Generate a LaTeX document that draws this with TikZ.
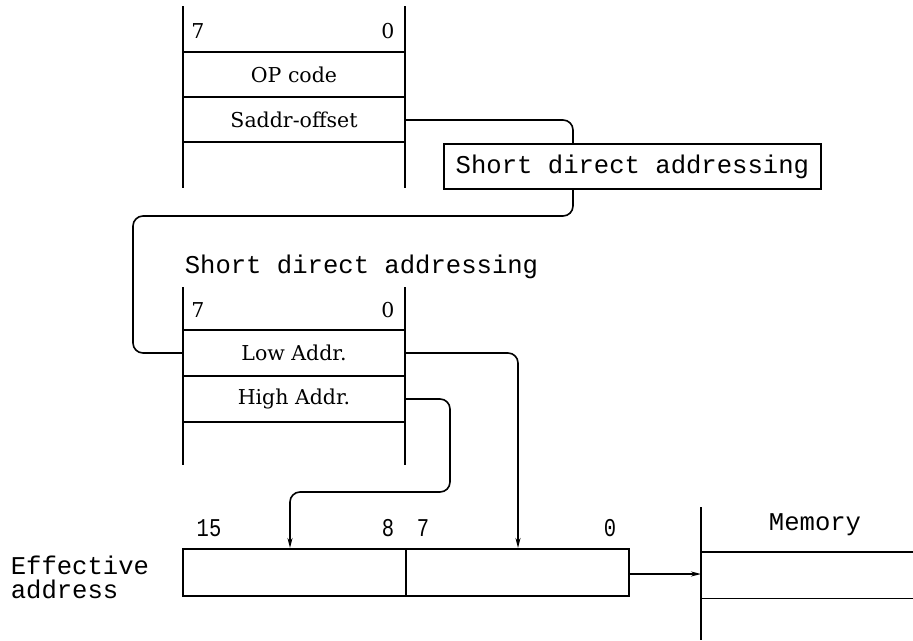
\documentclass[tikz,border=0pt]{standalone}
\usepackage{fontspec}
\usepackage{graphicx}
\setmainfont{DejaVu Serif}
\newfontfamily\monofont{Liberation Mono}
\usetikzlibrary{arrows.meta}
\newcommand{\narrow}[1]{\scalebox{0.8}[1]{#1}}
\begin{document}
\begin{tikzpicture}[x=1pt,y=1pt,
  line width=1.6pt,
  serif/.style={font=\fontsize{20.5}{24}\selectfont, inner sep=0pt},
  mono/.style={font=\monofont\fontsize{25.6}{24}\selectfont, inner sep=0pt},
  row/.style={serif, minimum width=222pt, minimum height=45pt},
  link/.style={line width=1.6pt, rounded corners=10pt},
  tip/.style={-{Stealth[length=10pt,width=5pt]}}]
\useasboundingbox (0,0) rectangle (913,-640);

% --- instruction bytes ---
\draw (183,-6) -- (183,-188) (405,-6) -- (405,-188);
\draw (183,-52) -- (405,-52) (183,-97) -- (405,-97) (183,-142) -- (405,-142);
\node[serif] (tbit7) at (198,-31) {7};
\node[serif] (tbit0) at (388,-31) {0};
\node[row] (op) at (294,-75) {OP code};
\node[row] (sa) at (294,-120) {Saddr-offset};

% --- short direct addressing box ---
\node[mono, draw, line width=1.8pt, minimum width=377pt, minimum height=45pt, anchor=north west] (sda) at (443,-143) {Short direct addressing};
\draw[link] (sa.east) -| ([xshift=130pt]sda.north west);
\coordinate (bendL) at (133,-216);

% --- short direct addressing area ---
\node[mono, anchor=west] (sdalbl) at (184,-267) {Short direct addressing};
\draw (183,-287) -- (183,-465) (405,-287) -- (405,-465);
\draw (183,-330) -- (405,-330) (183,-376) -- (405,-376) (183,-422) -- (405,-422);
\node[serif] (sbit7) at (198,-310) {7};
\node[serif] (sbit0) at (388,-310) {0};
\node[row] (low) at (294,-353) {Low Addr.};
\node[row] (high) at (294,-399) {High Addr.};
\draw[link] ([xshift=130pt]sda.south west) |- (bendL) |- (low.west);

% --- effective address ---
\node[draw, line width=1.8pt, minimum width=446pt, minimum height=47pt, inner sep=0pt, anchor=north west] (eff) at (182,-548) {};
\draw (406,-548) -- (406,-595);
\node[mono, align=left, anchor=west, font=\monofont\fontsize{25.6}{24}\selectfont] (efflbl) at (10,-577) {Effective\\address};
\node[mono] (e15) at (209,-528) {\narrow{15}};
\node[mono] (e8) at (388,-528) {\narrow{8}};
\node[mono] (e7) at (423,-528) {\narrow{7}};
\node[mono] (e0) at (610,-528) {\narrow{0}};

\coordinate (bendH) at (450,-492);
\draw[link, tip] (low.east) -| ([xshift=336pt]eff.north west);
\draw[link, tip] (high.east) -| (bendH) -| ([xshift=108pt]eff.north west);

% --- memory ---
\draw (701,-507) -- (701,-640);
\node[minimum width=212pt, minimum height=45pt, inner sep=0pt, anchor=north west] (mem) at (701,-552) {};
\draw (mem.north west) -- (mem.north east) (mem.south west) -- (mem.south east);
\node[mono] (memlbl) at (815,-525) {Memory};
\draw[tip] (eff.east |- 0,-574) -- (mem.west |- 0,-574);
\end{tikzpicture}
\end{document}
